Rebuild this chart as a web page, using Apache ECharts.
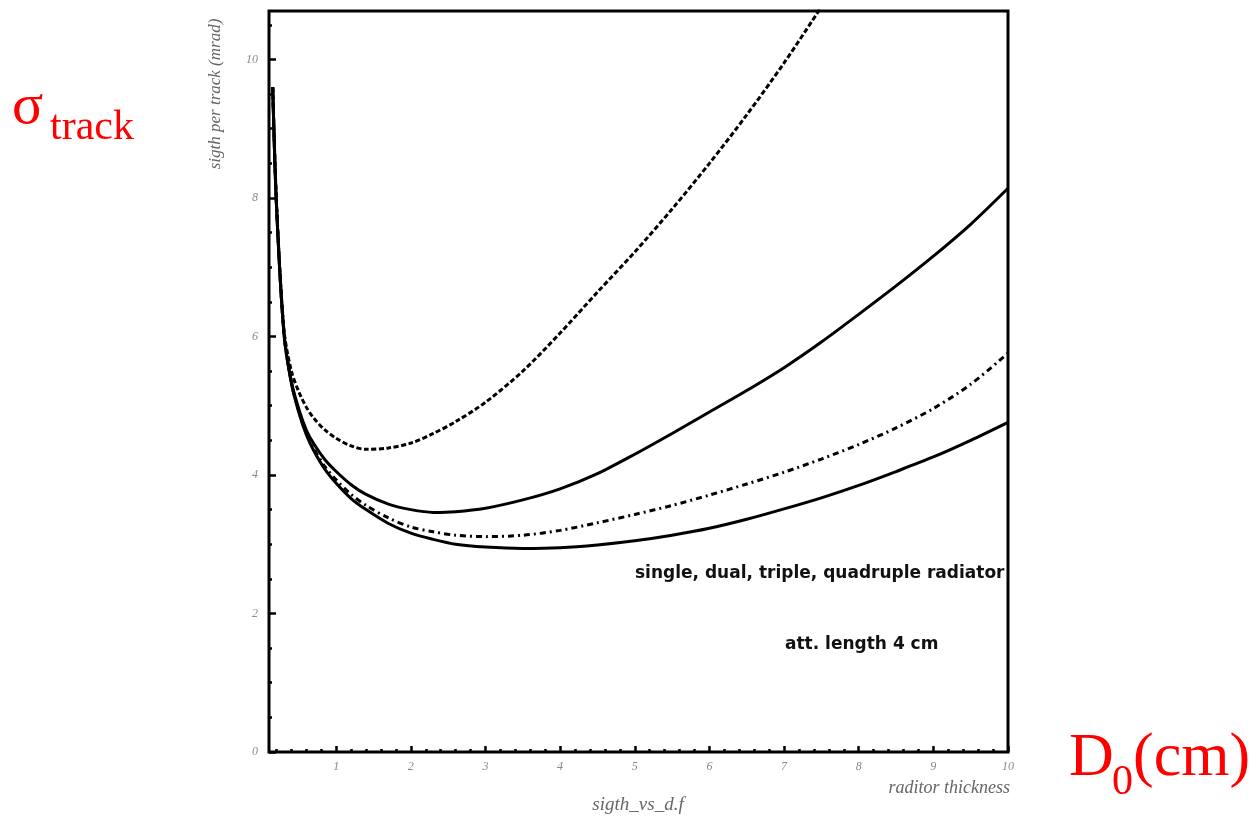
<!DOCTYPE html>
<html>
<head>
<meta charset="utf-8">
<script src="https://cdn.jsdelivr.net/npm/echarts@6/dist/echarts.min.js"></script>
<style>
html,body{margin:0;padding:0;background:#fff;}
#chart{width:1257px;height:819px;}
</style>
</head>
<body>
<div id="chart"></div>
<script>
// thickness grid (cm)
const thickness = [0.15,0.2,0.3,0.4,0.5,0.6,0.7,0.85,1.0,1.2,1.4,1.7,2.0,2.3,2.6,3.0,3.5,4.0,4.5,5.0,5.5,6.0,6.5,7.0,7.5,8.0,8.5,9.0,9.5,10.0];
// sigma per track (mrad)
const singleRad    = [9.6,7.95,6.1,5.5,5.2,4.98,4.82,4.65,4.53,4.42,4.37,4.39,4.46,4.6,4.77,5.05,5.5,6.05,6.64,7.22,7.84,8.5,9.2,9.95,10.76,null,null,null,null,null];
const dualRad      = [9.6,7.9,6.05,5.35,4.95,4.65,4.45,4.22,4.05,3.86,3.72,3.58,3.5,3.46,3.47,3.52,3.64,3.8,4.02,4.3,4.6,4.91,5.22,5.55,5.92,6.32,6.73,7.16,7.62,8.14];
const tripleRad    = [9.6,7.9,6.05,5.33,4.92,4.6,4.38,4.12,3.93,3.72,3.56,3.38,3.25,3.18,3.13,3.11,3.13,3.2,3.31,3.43,3.56,3.71,3.87,4.04,4.23,4.44,4.68,4.96,5.31,5.76];
const quadrupleRad = [9.6,7.9,6.05,5.32,4.9,4.58,4.35,4.08,3.88,3.66,3.5,3.3,3.16,3.07,3.0,2.96,2.94,2.95,2.99,3.05,3.13,3.23,3.36,3.51,3.67,3.85,4.05,4.26,4.5,4.76];
// tick labels
const xMajorTicks = [1,2,3,4,5,6,7,8,9,10];
const xMinorTicks = [0.2,0.4,0.6,0.8,1.2,1.4,1.6,1.8,2.2,2.4,2.6,2.8,3.2,3.4,3.6,3.8,4.2,4.4,4.6,4.8,5.2,5.4,5.6,5.8,6.2,6.4,6.6,6.8,7.2,7.4,7.6,7.8,8.2,8.4,8.6,8.8,9.2,9.4,9.6,9.8];
const yMajorTicks = [0,2,4,6,8,10];
const yMinorTicks = [0.5,1,1.5,2.5,3,3.5,4.5,5,5.5,6.5,7,7.5,8.5,9,9.5,10.5];

const pairs = ys => thickness.map((x,i)=>[x, ys[i]]);

const chart = echarts.init(document.getElementById('chart'), null, {renderer:'canvas'});
const labelStyle = {color:'#8a8a8a', fontFamily:'Liberation Serif', fontStyle:'italic', fontSize:12};

const lineBase = {type:'line', showSymbol:false, smooth:0.3, connectNulls:false, animation:false, xAxisIndex:0, yAxisIndex:0, clip:true};

chart.setOption({
  animation:false,
  backgroundColor:'#fff',
  grid:{left:269, top:11, width:739, height:741, show:true, borderColor:'#000', borderWidth:3, backgroundColor:'transparent', containLabel:false},
  xAxis:[
    {type:'value', min:0.1, max:10, position:'bottom', axisLine:{show:false}, splitLine:{show:false},
     axisTick:{show:true, inside:true, length:6, customValues:xMajorTicks, lineStyle:{color:'#000', width:2.5}},
     axisLabel:{show:true, customValues:xMajorTicks, margin:9, ...labelStyle}},
    {type:'value', min:0.1, max:10, position:'bottom', axisLine:{show:false}, splitLine:{show:false},
     axisTick:{show:true, inside:true, length:3, customValues:xMinorTicks, lineStyle:{color:'#000', width:2.5}},
     axisLabel:{show:false}}
  ],
  yAxis:[
    {type:'value', min:0, max:10.7, position:'left', axisLine:{show:false}, splitLine:{show:false},
     axisTick:{show:true, inside:true, length:7, customValues:yMajorTicks, lineStyle:{color:'#000', width:2.5}},
     axisLabel:{show:true, customValues:yMajorTicks, margin:11, ...labelStyle}},
    {type:'value', min:0, max:10.7, position:'left', axisLine:{show:false}, splitLine:{show:false},
     axisTick:{show:true, inside:true, length:3, customValues:yMinorTicks, lineStyle:{color:'#000', width:2.5}},
     axisLabel:{show:false}}
  ],
  series:[
    {...lineBase, name:'single', data:pairs(singleRad), lineStyle:{color:'#000', width:3, type:[5,2.5]}},
    {...lineBase, name:'dual', data:pairs(dualRad), lineStyle:{color:'#000', width:3, type:'solid'}},
    {...lineBase, name:'triple', data:pairs(tripleRad), lineStyle:{color:'#000', width:3, type:[6,4,2,4]}},
    {...lineBase, name:'quadruple', data:pairs(quadrupleRad), lineStyle:{color:'#000', width:3, type:'solid'}}
  ],
  graphic:[
    {type:'text', x:216, y:94, rotation:Math.PI/2, style:{text:'sigth per track (mrad)', align:'center', verticalAlign:'middle', font:'italic 17px "Liberation Serif"', fill:'#666'}},
    {type:'text', x:1010, y:788, style:{text:'raditor thickness', align:'right', verticalAlign:'middle', font:'italic 18px "Liberation Serif"', fill:'#666'}},
    {type:'text', x:638, y:805, style:{text:'sigth_vs_d.f', align:'center', verticalAlign:'middle', font:'italic 19px "Liberation Serif"', fill:'#666'}},
    {type:'text', x:635, y:574, style:{text:'single, dual, triple, quadruple radiator', align:'left', verticalAlign:'middle', font:'bold 17px "DejaVu Sans"', fill:'#111'}},
    {type:'text', x:785, y:645, style:{text:'att. length 4 cm', align:'left', verticalAlign:'middle', font:'bold 17px "DejaVu Sans"', fill:'#111'}},
    {type:'text', x:12, y:108, style:{text:'σ', align:'left', verticalAlign:'middle', font:'58px "Liberation Serif"', fill:'#ff0000'}},
    {type:'text', x:50, y:128, style:{text:'track', align:'left', verticalAlign:'middle', font:'42px "Liberation Serif"', fill:'#ff0000'}},
    {type:'text', x:1069, y:759, style:{text:'D', align:'left', verticalAlign:'middle', font:'62px "Liberation Serif"', fill:'#ff0000'}},
    {type:'text', x:1112, y:783, style:{text:'0', align:'left', verticalAlign:'middle', font:'42px "Liberation Serif"', fill:'#ff0000'}},
    {type:'text', x:1133, y:759, style:{text:'(cm)', align:'left', verticalAlign:'middle', font:'62px "Liberation Serif"', fill:'#ff0000'}}
  ]
});
</script>
</body>
</html>
